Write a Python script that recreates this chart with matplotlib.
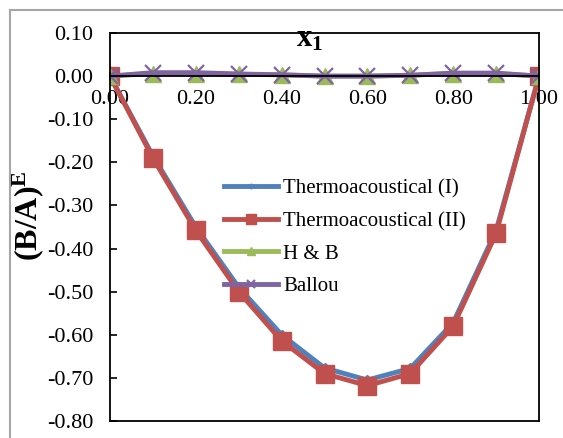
import numpy as np
import matplotlib.pyplot as plt
from matplotlib.lines import Line2D
from matplotlib.ticker import MultipleLocator, FormatStrFormatter

plt.rcParams["font.family"] = ["Liberation Serif", "DejaVu Serif"]
plt.rcParams["mathtext.fontset"] = "custom"
plt.rcParams["mathtext.rm"] = "Liberation Serif"
plt.rcParams["mathtext.bf"] = "Liberation Serif:bold"

# mole fraction x1
x1 = [0.0, 0.1, 0.2, 0.3, 0.4, 0.5, 0.6, 0.7, 0.8, 0.9, 1.0]

# (B/A)^E for each method
thermo_1 = [0.0, -0.185, -0.350, -0.490, -0.600, -0.677, -0.705, -0.678, -0.572, -0.358, 0.0]
thermo_2 = [0.0, -0.190, -0.358, -0.500, -0.614, -0.690, -0.718, -0.690, -0.580, -0.365, 0.0]
h_and_b = [0.0, 0.006, 0.006, 0.004, 0.003, 0.000, 0.000, 0.002, 0.006, 0.006, 0.0]
ballou = [0.0, 0.008, 0.008, 0.005, 0.003, 0.000, 0.000, 0.002, 0.007, 0.007, 0.0]

labels = ["Thermoacoustical (I)", "Thermoacoustical (II)", "H & B", "Ballou"]

fig = plt.figure(figsize=(5.63, 4.38), dpi=100)
ax = fig.add_axes([110 / 563, 1 - 421 / 438, 429 / 563, 388 / 438])

lw = 3.5
ax.plot(x1, thermo_1, color="#4F81BD", lw=lw, marker="D", ms=5, label=labels[0])
ax.plot(x1, thermo_2, color="#C0504D", lw=lw, marker="s", ms=13, label=labels[1])
ax.plot(x1, h_and_b, color="#9BBB59", lw=lw, marker="^", ms=12, label=labels[2])
ax.plot(x1, ballou, color="#8064A2", lw=lw, marker="x", ms=12, mew=1.6, label=labels[3])

ax.set_xlim(0, 1)
ax.set_ylim(-0.8, 0.1)

# x axis crosses at y = 0, keep the box closed at the bottom
ax.spines["bottom"].set_position(("data", 0))
for s in ax.spines.values():
    s.set_linewidth(1.3)
ax.add_line(Line2D([0, 1], [0, 0], transform=ax.transAxes, color="k", lw=1.3, clip_on=False))

ax.xaxis.set_major_locator(MultipleLocator(0.2))
ax.xaxis.set_minor_locator(MultipleLocator(0.1))
ax.xaxis.set_major_formatter(FormatStrFormatter("%.2f"))
ax.yaxis.set_major_locator(MultipleLocator(0.1))
ax.yaxis.set_major_formatter(FormatStrFormatter("%.2f"))

ax.tick_params(axis="x", which="both", direction="inout", length=6, width=1.2, pad=7, labelsize=16)
ax.tick_params(axis="y", direction="in", length=5, width=1.2, pad=12, labelsize=16)

ax.set_ylabel(r"$\mathbf{(B/A)^E}$", fontsize=23)
ax.yaxis.set_label_coords(-0.15, 0.53)
ax.text(0.466, 0.085, r"$\mathbf{x_1}$", fontsize=22, ha="center", va="center")

ax.legend(loc="upper left", bbox_to_anchor=(0.221, 0.672), frameon=False, fontsize=15,
          handlelength=2.6, handletextpad=0.25, labelspacing=0.62, markerscale=0.5)

# grey chart-area border (top and left visible)
fig.add_artist(Line2D([10 / 563, 1], [1 - 10 / 438] * 2, color="#a6a6a6", lw=1.5))
fig.add_artist(Line2D([10 / 563] * 2, [0, 1 - 10 / 438], color="#a6a6a6", lw=1.5))

fig.savefig("out.png", dpi=100)
